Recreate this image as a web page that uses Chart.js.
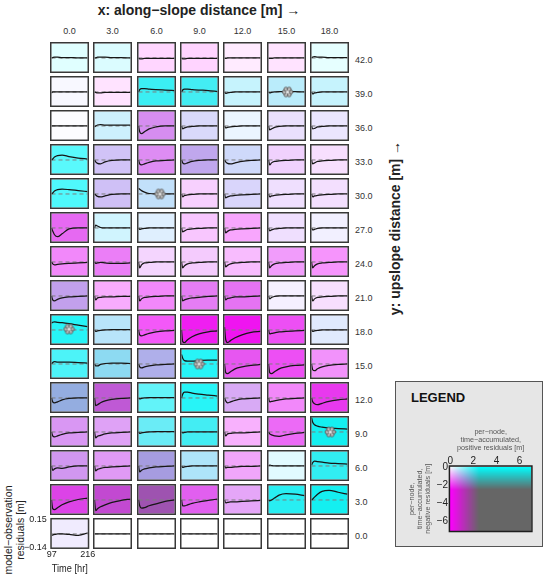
<!DOCTYPE html>
<html><head><meta charset="utf-8">
<script src="https://cdn.jsdelivr.net/npm/chart.js@4.4.1/dist/chart.umd.min.js"></script>
<style>
html,body{margin:0;padding:0;background:#fff}
body{width:545px;height:582px;position:relative;overflow:hidden;font-family:"Liberation Sans",Arial,Helvetica,sans-serif;color:#222}
.abs{position:absolute;white-space:nowrap}
canvas{position:absolute;display:block}
.lbl{position:absolute;font-size:9px;color:#333;line-height:10px;white-space:nowrap}
</style></head><body>
<div class="abs" style="left:199px;top:2px;transform:translateX(-50%);font-weight:bold;font-size:14px;line-height:16px">x: along−slope distance [m] →</div>
<div class="abs" style="left:395px;top:228px;transform:translate(-50%,-50%) rotate(-90deg);font-weight:bold;font-size:14px;line-height:16px">y: upslope distance [m] →</div>
<div class="abs" style="left:13.5px;top:530px;transform:translate(-50%,-50%) rotate(-90deg);font-size:10.5px;line-height:11.5px;text-align:center;color:#222">model−observation<br>residuals [m]</div>
<div class="abs" style="left:395px;top:381px;width:148px;height:166px;box-sizing:border-box;background:#e6e6e6;border:1.5px solid #555"></div>
<div class="abs" style="left:411px;top:390px;font-weight:bold;font-size:13px;line-height:16px;color:#111">LEGEND</div>
<script>
// ---------------- data ----------------
const times = [97, 101, 107, 117, 132, 155, 185, 216];
const xLabels = ['0.0','3.0','6.0','9.0','12.0','15.0','18.0'];
const yLabels = ['42.0','39.0','36.0','33.0','30.0','27.0','24.0','21.0','18.0','15.0','12.0','9.0','6.0','3.0','0.0'];
const cellTimeTicks = [97, 216];
const cellResTicks = [-0.14, 0.15];
const legendPosTicks = [0, 2, 4, 6];
const legendNegTicks = [0, -2, -4, -6];

const r42 = [
 [0,0.005,0.01,0.01,0.005,0.005,0,0],
 [0,0,0.01,0.01,0.01,0.005,0.005,0],
 [0,-0.01,-0.01,-0.005,-0.005,-0.005,-0.005,-0.005],
 [0,-0.01,-0.01,-0.005,-0.005,-0.005,-0.005,-0.005],
 [0,-0.005,0,0,0,0,0,0],
 [0,-0.005,-0.005,0,0,0,0,0],
 [0,0.01,0.015,0.01,0.01,0.005,0.005,0.005]];
const r39 = [
 [-0.01,0,0,0,0,0,0,0],
 [0,-0.005,-0.01,-0.01,-0.005,-0.005,-0.005,-0.005],
 [0,0.025,0.035,0.035,0.03,0.025,0.02,0.015],
 [0,0.02,0.03,0.03,0.025,0.02,0.015,0.005],
 [0,-0.015,-0.01,-0.005,0,0,0,0],
 [0,-0.01,-0.005,0,0.005,0.005,0.005,0],
 [0,-0.02,-0.01,-0.005,0,0,0,0]];
const r36 = [
 [0,0,0,0,0,0,0,0],
 [-0.01,0,0.01,0.015,0.01,0.01,0.01,0.01],
 [0,-0.06,-0.08,-0.06,-0.03,-0.01,0,0],
 [0,-0.03,-0.02,-0.01,-0.005,0,0,0],
 [0,-0.02,-0.015,-0.01,-0.005,0,0,0],
 [0,-0.04,-0.03,-0.015,-0.005,0,0,0],
 [0,-0.03,-0.025,-0.01,-0.005,0,0,0]];
const r33 = [
 [0,0.01,0.03,0.045,0.05,0.035,0.02,0.01],
 [0,-0.02,-0.035,-0.04,-0.02,-0.005,0,0],
 [0,-0.04,-0.05,-0.04,-0.025,-0.01,-0.005,0],
 [0,-0.03,-0.04,-0.03,-0.015,-0.005,0,0],
 [0,-0.02,-0.035,-0.04,-0.03,-0.015,-0.005,0],
 [0,-0.05,-0.03,-0.015,-0.01,-0.005,0,0],
 [0,-0.04,-0.03,-0.015,-0.01,-0.005,0,0]];
const r30 = [
 [0,0.01,0.03,0.045,0.05,0.045,0.035,0.025],
 [0,-0.01,-0.025,-0.03,-0.02,-0.005,0,0],
 [0.06,0.05,0.035,0.02,0.005,0,0,0],
 [0,-0.03,-0.015,-0.01,-0.005,0,0,0],
 [0,-0.04,-0.03,-0.02,-0.015,-0.01,-0.005,0],
 [0,-0.03,-0.02,-0.015,-0.01,-0.005,0,0],
 [0,-0.03,-0.02,-0.015,-0.01,-0.005,0,0]];
const r27 = [
 [0,-0.03,-0.07,-0.09,-0.06,-0.01,0,0],
 [0,0.03,0.02,0.005,0,0,0,0],
 [0,-0.015,-0.01,-0.005,0,0,0,0],
 [0,-0.04,-0.03,-0.015,-0.01,-0.005,0,0],
 [0,-0.05,-0.035,-0.02,-0.015,-0.01,-0.005,0],
 [0,-0.03,-0.02,-0.01,-0.005,0,0,0],
 [0,-0.02,-0.015,-0.005,0,0,0,0]];
const r24 = [
 [0,-0.02,-0.03,-0.025,-0.02,-0.015,-0.01,-0.005],
 [0,-0.015,-0.01,-0.005,-0.01,-0.015,-0.015,-0.01],
 [0,-0.06,-0.03,-0.01,-0.005,0,0,0],
 [0,-0.06,-0.04,-0.02,-0.01,-0.005,0,0],
 [0,-0.05,-0.035,-0.02,-0.01,-0.005,0,0],
 [0,-0.06,-0.04,-0.02,-0.01,-0.005,0,0],
 [0,-0.06,-0.04,-0.02,-0.01,-0.005,0,0]];
const r21 = [
 [0,-0.04,-0.05,-0.035,-0.02,-0.01,-0.005,0],
 [0,-0.04,-0.02,-0.015,-0.01,-0.01,-0.005,-0.005],
 [0,-0.05,-0.03,-0.015,-0.01,-0.005,0,0],
 [0,-0.05,-0.04,-0.03,-0.02,-0.015,-0.005,0],
 [0,-0.04,-0.025,-0.02,-0.01,-0.01,-0.005,0],
 [0,-0.03,-0.015,-0.005,0,0,0,0],
 [0,-0.05,-0.03,-0.015,-0.01,-0.005,0,0]];
const r18 = [
 [0.07,0.08,0.085,0.08,0.075,0.065,0.05,0.035],
 [0,-0.015,-0.01,-0.005,0,0.005,0.005,0.005],
 [0,-0.05,-0.06,-0.05,-0.035,-0.02,-0.01,-0.005],
 [0,-0.12,-0.13,-0.1,-0.07,-0.04,-0.02,-0.01],
 [0.03,-0.1,-0.13,-0.11,-0.08,-0.05,-0.025,-0.015],
 [0,-0.04,-0.035,-0.03,-0.02,-0.015,-0.01,-0.005],
 [0,-0.015,-0.01,-0.005,0,0,0,0]];
const r15 = [
 [0,0.015,0.025,0.02,0.02,0.02,0.015,0.01],
 [0,-0.02,-0.02,-0.005,0.005,0.01,0.01,0.005],
 [0,-0.03,-0.04,-0.03,-0.02,-0.01,-0.005,0],
 [0.1,0.06,0.035,0.03,0.03,0.035,0.04,0.04],
 [0,-0.09,-0.1,-0.08,-0.05,-0.03,-0.015,-0.005],
 [0,-0.09,-0.1,-0.08,-0.05,-0.03,-0.015,-0.01],
 [0,-0.06,-0.07,-0.05,-0.03,-0.015,-0.005,0]];
const r12 = [
 [0,-0.04,-0.05,-0.04,-0.02,-0.005,0,0],
 [0,-0.08,-0.07,-0.05,-0.03,-0.015,-0.005,0],
 [0,-0.01,-0.005,0,0.005,0.005,0.005,0.005],
 [0,0.04,0.06,0.06,0.05,0.04,0.03,0.02],
 [0,-0.03,-0.05,-0.04,-0.025,-0.01,-0.005,0],
 [0,-0.04,-0.035,-0.03,-0.02,-0.01,-0.005,0],
 [0,-0.04,-0.06,-0.07,-0.055,-0.035,-0.02,-0.01]];
const r9 = [
 [0,-0.04,-0.05,-0.04,-0.025,-0.01,-0.005,0],
 [0,-0.06,-0.045,-0.035,-0.02,-0.01,-0.005,0],
 [0,-0.015,-0.01,-0.005,0,0.005,0.005,0.005],
 [0,-0.01,-0.005,0,0,0,0,0],
 [0,-0.04,-0.02,-0.015,-0.01,-0.01,-0.005,0],
 [0,-0.02,-0.03,-0.04,-0.045,-0.03,-0.015,-0.005],
 [0.15,0.1,0.075,0.06,0.05,0.04,0.035,0.03]];
const r6 = [
 [0,-0.045,-0.03,-0.02,-0.025,-0.01,0,0],
 [0,-0.05,-0.035,-0.025,-0.015,-0.01,-0.005,0],
 [0,-0.06,-0.045,-0.03,-0.02,-0.01,-0.005,0],
 [0,-0.015,-0.01,-0.005,0,0,0,0],
 [0,-0.02,-0.015,-0.015,-0.01,-0.005,-0.005,0],
 [0,0.01,0.005,0,0,0,0,0],
 [0.01,0.035,0.05,0.045,0.04,0.03,0.025,0.02]];
const r3 = [
 [0,-0.09,-0.1,-0.08,-0.05,-0.02,0.005,0.02],
 [0,-0.11,-0.09,-0.07,-0.05,-0.025,-0.005,0.01],
 [0,-0.06,-0.085,-0.08,-0.06,-0.04,-0.015,0],
 [0,-0.06,-0.06,-0.05,-0.035,-0.02,-0.005,0.01],
 [0,-0.03,-0.025,-0.02,-0.02,-0.015,-0.01,-0.005],
 [0,-0.01,0,0.02,0.05,0.065,0.06,0.045],
 [0,0.01,0.03,0.06,0.09,0.1,0.08,0.06]];
const r0 = [
 [-0.015,-0.01,-0.005,0,0,-0.005,-0.015,0.01],
 [0,0,0,0,0,0,0,0],
 [0,0,0,0,0,0,0,0],
 [0,0,0,0,0,0,0,0],
 [0,0,0,0,0,0,0,0],
 [0,0,0,0,0,0,0,0],
 [0,0,0,0,0,0,0,0]];
const residuals = [r42, r39, r36, r33, r30, r27, r24, r21, r18, r15, r12, r9, r6, r3, r0];

// per-node time-accumulated positive / negative residuals [m]
const posAcc = [
 [0.3,0.35,0,0,0,0,0.25],
 [0.07,0,2.0,1.92,0.57,0.7,0.57],
 [0.03,0.5,0.5,0.4,0.2,0.22,0.2],
 [1.65,0.5,0.4,0.73,0.5,0.16,0.08],
 [1.75,0.53,0.63,0.08,0.4,0.17,0.12],
 [0.33,0.47,0.32,0.08,0.08,0.17,0.13],
 [0.16,0.25,0.12,0.12,0.08,0.16,0.11],
 [0.72,0.08,0.16,0.33,0.33,0.1,0.08],
 [2.17,0.73,0.16,0.25,0.25,0.25,0.32],
 [1.8,1.2,0.92,2.17,0.33,0.25,0.16],
 [1.25,0.9,1.58,2.17,0.45,0.16,0.33],
 [0.45,0.37,1.52,1.92,0.08,0.25,2.4],
 [0.55,0.37,1.07,0.83,0.16,0.3,2.1],
 [0.5,0.9,1.47,0.4,0.3,2.2,2.4],
 [0.15,0,0,0,0,0,0]];
const negAcc = [
 [0,0.03,0.4,0.42,0.2,0.27,0],
 [0.07,0.27,0.25,0.25,0.13,0.21,0.13],
 [0.03,0.16,1.22,0.4,0.1,0.32,0.25],
 [0.08,0.64,1.2,0.98,0.4,0.46,0.32],
 [0.08,0.67,0.34,0.47,0.44,0.32,0.32],
 [1.55,0.12,0.17,0.57,0.88,0.32,0.15],
 [1.2,1.32,0.42,0.52,0.67,1.0,1.07],
 [1.05,0.82,1.2,1.35,1.45,0.15,0.32],
 [0.16,0.3,1.68,2.3,2.4,1.8,0.22],
 [0.16,0.45,0.92,0.16,1.75,1.8,1.1],
 [1.0,1.9,0.16,0.16,0.9,1.2,2.05],
 [1.1,0.97,0.25,0.25,0.77,1.52,0.25],
 [1.12,1.05,1.17,0.3,0.9,0.05,0.25],
 [2.0,2.08,2.2,1.68,0.92,0.25,0.25],
 [0.2,0,0,0,0,0,0]];

// flagged nodes (row index, column index, time [hr], residual [m])
const flagRow = [1, 4, 8, 9, 11];
const flagCol = [5, 2, 0, 3, 6];
const flagTime = [160, 168, 155, 155, 159];
const flagVal = [0, 0, 0.01, 0, 0];

// ---------------- layout ----------------
const COL0 = 50, COLP = 43.3, CW = 39;
const ROW0 = 42, ROWP = 34, CH = 31, BW = 1.5;

Chart.defaults.font.family = '"Liberation Sans", Arial, Helvetica, sans-serif';
Chart.defaults.color = '#222';

function cmap(p, n) {
  const a = Math.min(1, Math.max(0, p / 2.5)), b = Math.min(1, Math.max(0, n / 2.5));
  return [255 * (1 - a) + 102 * a * b, 255 * (1 - b) + 102 * a * b, 255 - 153 * a * b];
}
function css(c) { return 'rgb(' + c.map(v => Math.round(v)).join(',') + ')'; }

const cellFrame = {
  id: 'cellFrame',
  beforeDatasetsDraw(chart, args, opts) {
    const { ctx, chartArea: ca } = chart;
    ctx.save(); ctx.fillStyle = opts.color;
    ctx.fillRect(ca.left, ca.top, ca.right - ca.left, ca.bottom - ca.top); ctx.restore();
  },
  afterDatasetsDraw(chart) {
    const { ctx, chartArea: ca } = chart;
    ctx.save(); ctx.strokeStyle = '#383838'; ctx.lineWidth = BW;
    ctx.strokeRect(ca.left - BW / 2, ca.top - BW / 2, ca.right - ca.left + BW, ca.bottom - ca.top + BW);
    ctx.restore();
  }
};

function makeFlower() {
  const c = document.createElement('canvas'); c.width = 13; c.height = 13;
  const g = c.getContext('2d'); g.lineWidth = 0.9; g.strokeStyle = '#555'; g.fillStyle = '#bdbdbd';
  for (let k = 0; k < 6; k++) {
    const a = k * Math.PI / 3;
    g.beginPath(); g.arc(6.5 + 3.2 * Math.cos(a), 6.5 + 3.2 * Math.sin(a), 2.0, 0, 2 * Math.PI); g.fill(); g.stroke();
  }
  g.beginPath(); g.arc(6.5, 6.5, 1.6, 0, 2 * Math.PI); g.fillStyle = '#e8e8e8'; g.fill();
  return c;
}
const flowerImg = makeFlower();

function minus(s) { return String(s).replace('-', '\u2212'); }

// adjust layout padding so the chart area gets the wanted size, then place the canvas
function alignChart(chart, cfgPad, vKey, cv, L, T, W, H) {
  for (let k = 0; k < 5; k++) {
    const ca = chart.chartArea;
    cfgPad.right += (ca.right - ca.left) - W;
    cfgPad[vKey] += (ca.bottom - ca.top) - H;
    chart.update('none');
  }
  const ca = chart.chartArea;
  cv.style.left = Math.round(L - ca.left) + 'px';
  cv.style.top = Math.round(T - ca.top) + 'px';
}

function buildCell(r, c) {
  const vals = residuals[r][c];
  const datasets = [
    { data: times.map((t, i) => ({ x: t, y: vals[i] })), borderColor: '#161616', borderWidth: 1.25,
      pointRadius: 0, pointHoverRadius: 0, cubicInterpolationMode: 'monotone', order: 1 },
    { data: [{ x: times[0], y: 0 }, { x: times[times.length - 1], y: 0 }], borderColor: '#7d7d7d',
      borderWidth: 1, borderDash: [4, 3], pointRadius: 0, pointHoverRadius: 0, order: 2 }
  ];
  flagRow.forEach((fr, k) => {
    if (fr === r && flagCol[k] === c) {
      datasets.push({ data: [{ x: flagTime[k], y: flagVal[k] }], showLine: false, pointStyle: flowerImg,
        pointRadius: 0.5, pointHoverRadius: 0.5, pointBorderWidth: 0, borderWidth: 0, order: 0 });
    }
  });
  const left = Math.round(COL0 + COLP * c), top = ROW0 + ROWP * r;
  const isAxis = (r === residuals.length - 1 && c === 0);
  const cv = document.createElement('canvas');
  document.body.appendChild(cv);
  const pad = isAxis ? { left: 0, top: 10, right: 10, bottom: 4 } : { left: BW, top: BW, right: BW, bottom: BW };
  const scaleX = { type: 'linear', min: times[0], max: times[times.length - 1], display: isAxis,
    grid: { display: false, drawTicks: false }, border: { display: false } };
  const scaleY = { type: 'linear', min: cellResTicks[0], max: cellResTicks[1], display: isAxis,
    grid: { display: false, drawTicks: false }, border: { display: false } };
  if (isAxis) {
    cv.width = 110; cv.height = 90;
    Object.assign(scaleX, {
      afterBuildTicks: ax => { ax.ticks = cellTimeTicks.map(v => ({ value: v })); },
      ticks: { padding: 3, font: { size: 9, lineHeight: 1 }, color: '#222', maxRotation: 0, autoSkip: false, callback: v => String(v) },
      title: { display: true, text: 'Time [hr]', font: { size: 10.5, lineHeight: 1.1 }, color: '#222', padding: { top: 1, bottom: 0 } }
    });
    Object.assign(scaleY, {
      afterBuildTicks: ax => { ax.ticks = cellResTicks.map(v => ({ value: v })); },
      ticks: { padding: 5, font: { size: 9 }, color: '#222', autoSkip: false, callback: v => minus(v.toFixed(2)) }
    });
  } else {
    cv.width = CW; cv.height = CH;
    cv.style.left = left + 'px'; cv.style.top = top + 'px';
  }
  const cfg = {
    type: 'line',
    data: { datasets },
    options: {
      responsive: false, animation: false, events: [], devicePixelRatio: 1,
      layout: { padding: pad, autoPadding: false },
      plugins: { legend: { display: false }, tooltip: { enabled: false },
        cellFrame: { color: css(cmap(posAcc[r][c], negAcc[r][c])) } },
      scales: { x: scaleX, y: scaleY }
    },
    plugins: [cellFrame]
  };
  const chart = new Chart(cv, cfg);
  if (isAxis) alignChart(chart, pad, 'top', cv, left + BW, top + BW, CW - 2 * BW, CH - 2 * BW);
}

for (let r = 0; r < residuals.length; r++) for (let c = 0; c < xLabels.length; c++) buildCell(r, c);

// facet labels
xLabels.forEach((t, c) => {
  const d = document.createElement('div'); d.className = 'lbl'; d.textContent = t;
  d.style.left = (Math.round(COL0 + COLP * c) + CW / 2) + 'px'; d.style.top = '26px';
  d.style.transform = 'translateX(-50%)'; document.body.appendChild(d);
});
yLabels.forEach((t, r) => {
  const d = document.createElement('div'); d.className = 'lbl'; d.textContent = t;
  d.style.left = '355px'; d.style.top = (ROW0 + ROWP * r + CH / 2 + 2.5 - 5) + 'px';
  document.body.appendChild(d);
});

// ---------------- legend colour key ----------------
const heatPlugin = {
  id: 'heat',
  beforeDatasetsDraw(chart) {
    const { ctx, chartArea: ca, scales } = chart;
    const w = Math.round(ca.right - ca.left), h = Math.round(ca.bottom - ca.top);
    const off = document.createElement('canvas'); off.width = w; off.height = h;
    const o = off.getContext('2d'); const img = o.createImageData(w, h);
    for (let j = 0; j < h; j++) for (let i = 0; i < w; i++) {
      const p = scales.x.getValueForPixel(ca.left + i + 0.5);
      const n = -scales.y.getValueForPixel(ca.top + j + 0.5);
      const col = cmap(p, n); const k = 4 * (j * w + i);
      img.data[k] = col[0]; img.data[k + 1] = col[1]; img.data[k + 2] = col[2]; img.data[k + 3] = 255;
    }
    o.putImageData(img, 0, 0);
    ctx.drawImage(off, ca.left, ca.top);
    ctx.save(); ctx.strokeStyle = '#1e1e1e'; ctx.lineWidth = 1.5;
    ctx.strokeRect(ca.left - 0.75, ca.top - 0.75, w + 1.5, h + 1.5); ctx.restore();
  }
};
const lcv = document.createElement('canvas'); lcv.width = 150; lcv.height = 140;
document.body.appendChild(lcv);
const lpad = { left: 0, top: 0, right: 10, bottom: 10 };
const lchart = new Chart(lcv, {
  type: 'scatter',
  data: { datasets: [] },
  options: {
    responsive: false, animation: false, events: [], devicePixelRatio: 1,
    layout: { padding: lpad },
    plugins: { legend: { display: false }, tooltip: { enabled: false } },
    scales: {
      x: { type: 'linear', position: 'top', min: 0, max: 7,
        afterBuildTicks: ax => { ax.ticks = legendPosTicks.map(v => ({ value: v })); },
        grid: { display: false, drawTicks: false }, border: { display: false },
        ticks: { padding: 1, font: { size: 10, lineHeight: 1 }, color: '#222', maxRotation: 0, autoSkip: false },
        title: { display: true, text: ['per\u2212node,', 'time\u2212accumulated,', 'positive residuals [m]'],
          font: { size: 7.2, lineHeight: 1.1 }, color: '#555', padding: { top: 0, bottom: 3 } } },
      y: { type: 'linear', min: -7, max: 0,
        afterBuildTicks: ax => { ax.ticks = legendNegTicks.map(v => ({ value: v })); },
        grid: { display: false, drawTicks: false }, border: { display: false },
        ticks: { padding: 2, font: { size: 10 }, color: '#222', autoSkip: false, callback: v => minus(v) },
        title: { display: true, text: ['per\u2212node,', 'time\u2212accumulated,', 'negative residuals [m]'],
          font: { size: 7.2, lineHeight: 1.1 }, color: '#555', padding: { top: 0, bottom: 3 } } }
    }
  },
  plugins: [heatPlugin]
});
alignChart(lchart, lpad, 'bottom', lcv, 450, 467, 81, 64);
</script>
</body></html>
